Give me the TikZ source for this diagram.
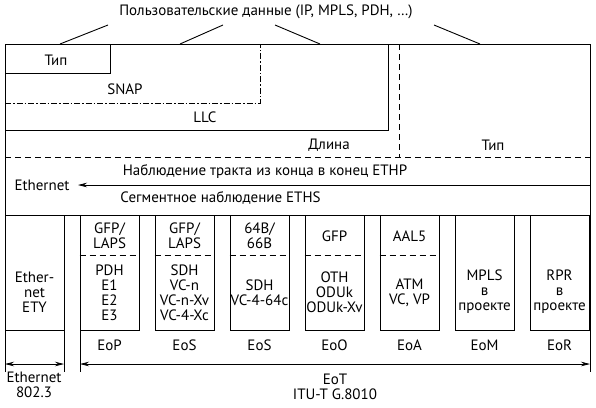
\documentclass[tikz,border=0pt]{standalone}
\usepackage{fontspec}
\setmainfont{PT Sans}
\usetikzlibrary{arrows.meta}
\begin{document}
\begin{tikzpicture}[x=1pt,y=-1pt,
  line width=0.9pt,
  font=\fontsize{15}{15}\selectfont,
  txt/.style={inner sep=0pt, align=center},
  boxn/.style={draw, minimum width=59pt, minimum height=115pt, inner sep=0pt},
  dashln/.style={dash pattern=on 6pt off 4pt},
  dashdot/.style={dash pattern=on 6pt off 2pt on 1.5pt off 2pt},
  tip/.style={-{Stealth[length=9pt,width=4.5pt]}},
  dtip/.style={{Stealth[length=9pt,width=4.5pt]}-{Stealth[length=9pt,width=4.5pt]}}]
\useasboundingbox (0,0) rectangle (596,407);

% title and connectors
\node[txt] (title) at (266,12) {Пользовательские данные (IP, MPLS, PDH, \dots)};
\coordinate (t1) at (108,25); \coordinate (b1) at (60,44);
\coordinate (t2) at (223,25); \coordinate (b2) at (180,44);
\coordinate (t3) at (275,25); \coordinate (b3) at (320,44);
\coordinate (t4) at (434,25); \coordinate (b4) at (480,44);
\draw (t1) -- (b1);
\draw (t2) -- (b2);
\draw (t3) -- (b3);
\draw (t4) -- (b4);

% outer frame
\draw (5,372) -- (5,44) -- (590,44) -- (590,372);
\draw (5,215) -- (590,215);

% header fields
\draw (5,73) -- (110,73) -- (110,44);
\node[txt] (typ1) at (56,60) {Тип};
\draw[dashdot] (5,103) -- (260,103) -- (260,44);
\node[txt] (snap) at (125,89) {SNAP};
\draw (5,130) -- (388,130) -- (388,44);
\node[txt] (llc) at (205,117) {LLC};
\draw[dashln] (5,157) -- (590,157);
\draw[dashln] (399,44) -- (399,157);
\node[txt] (len) at (329,145) {Длина};
\node[txt] (typ2) at (493,145) {Тип};

% Ethernet monitoring
\node[txt] (ethp) at (265,172) {Наблюдение тракта из конца в конец ETHP};
\node[txt, anchor=west] (eths) at (120,198) {Сегментное наблюдение ETHS};
\node[txt] (eth) at (42,185) {Ethernet};
\coordinate (arrR) at (590,185);
\draw[tip, line width=0.7pt] (arrR) -- (78,185);

% Ethernet ETY
\node[draw, minimum width=59pt, minimum height=115pt, inner sep=0pt] (ety) at (34.5,272.5) {};
\node[txt] (etyt) at (34.5,292) {Ether-\\net\\ETY};
\draw (64,330) -- (64,372);
\draw (80,215) -- (80,372);

% transport boxes
\foreach \i/\nm in {0/p,1/s,2/c,3/o,4/a,5/m,6/r}{
  \node[boxn] (b\nm) at ({109.5+75*\i},272.5) {};
}
\foreach \nm in {p,s,c,o,a}{
  \draw[dashln] (b\nm.west |- 0,255) -- (b\nm.east |- 0,255);
}
\node[txt] (p1) at (109.5,235.5) {GFP/\\LAPS};
\node[txt] (p2) at (109.5,292.5) {PDH\\E1\\E2\\E3};
\node[txt] (s1) at (184.5,235.5) {GFP/\\LAPS};
\node[txt] (s2) at (184.5,292.5) {SDH\\VC-n\\VC-n-Xv\\VC-4-Xc};
\node[txt] (c1) at (259.5,235.5) {64B/\\66B};
\node[txt] (c2) at (259.5,292.5) {SDH\\VC-4-64c};
\node[txt] (o1) at (334.5,236) {GFP};
\node[txt] (o2) at (334.5,292) {OTH\\ODUk\\ODUk-Xv};
\node[txt] (a1) at (409.5,236) {AAL5};
\node[txt] (a2) at (409.5,292.5) {ATM\\VC, VP};
\node[txt] (m2) at (484.5,292) {MPLS\\в\\проекте};
\node[txt] (r2) at (559.5,292) {RPR\\в\\проекте};

% labels below boxes
\foreach \i/\nm/\lb in {0/p/EoP,1/s/EoS,2/c/EoS,3/o/EoO,4/a/EoA,5/m/EoM,6/r/EoR}{
  \node[txt] (l\nm) at ({109.5+75*\i},345) {\lb};
}

% bottom arrows
\coordinate (e1) at (5,364); \coordinate (e2) at (64,364);
\coordinate (t1b) at (80,364); \coordinate (t2b) at (590,364);
\draw[dtip, line width=0.7pt] (e1) -- (e2);
\draw[dtip, line width=0.7pt] (t1b) -- (t2b);
\node[txt] (eth8023) at (34,385) {Ethernet\\802.3};
\node[txt] (eot) at (335,387) {EoT\\ITU-T G.8010};
\end{tikzpicture}
\end{document}
